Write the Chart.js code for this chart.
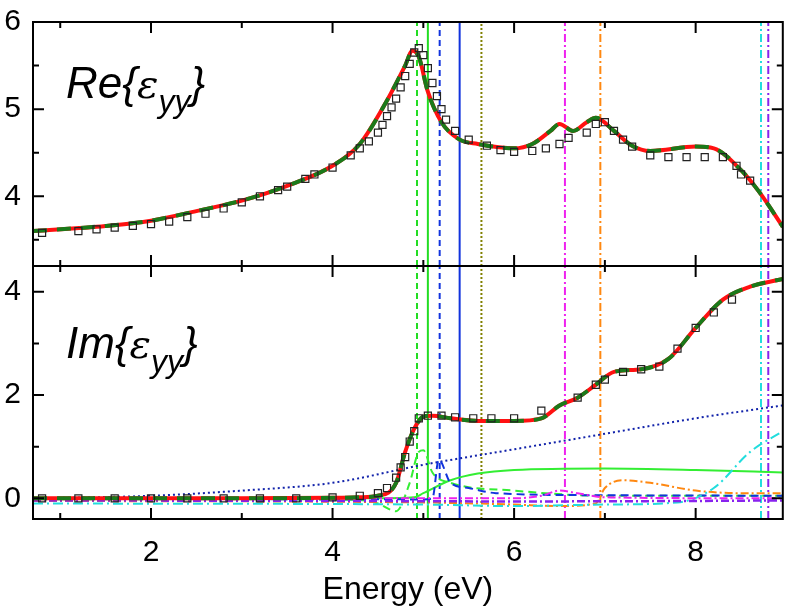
<!DOCTYPE html>
<html><head><meta charset="utf-8">
<script src="https://cdn.jsdelivr.net/npm/chart.js@4"></script>
<style>
html,body{margin:0;padding:0;background:#fff;}
#wrap{position:relative;width:789px;height:613px;}
.lab{position:absolute;font-family:"Liberation Sans",Arial,sans-serif;font-style:italic;font-size:44px;color:#000;}
.lab sub{font-size:32px;vertical-align:-14px;}
</style></head><body>
<div id="wrap"><canvas id="c" width="789" height="613"></canvas>
<div class="lab" style="left:66px;top:58px;">Re{<span style="font-family:'DejaVu Serif';font-size:40px">ε</span><sub>yy</sub>}</div>
<div class="lab" style="left:66px;top:318px;">Im{<span style="font-family:'DejaVu Serif';font-size:40px">ε</span><sub>yy</sub>}</div>
</div>
<script>
// ---- data ----
const reFitX = [0.7,1.5,2,2.5,3,3.5,4,4.3,4.6,4.8,4.88,4.95,5.05,5.2,5.4,5.6,6,6.2,6.4,6.5,6.65,6.8,6.9,7.1,7.3,7.5,8,8.2,8.5,8.7,8.96];
const reFitY = [3.6,3.66,3.72,3.83,3.95,4.12,4.35,4.6,5.1,5.5,5.67,5.6,5.2,4.85,4.65,4.6,4.55,4.6,4.75,4.83,4.75,4.85,4.9,4.75,4.58,4.52,4.57,4.55,4.3,4.05,3.65];
const reExpX = [0.8,1.2,1.4,1.6,1.8,2.0,2.2,2.4,2.6,2.8,3.0,3.2,3.4,3.5,3.7,3.8,4.0,4.2,4.3,4.4,4.5,4.55,4.6,4.65,4.7,4.75,4.8,4.85,4.9,4.95,5.0,5.05,5.1,5.15,5.2,5.25,5.35,5.5,5.7,5.85,6.0,6.2,6.35,6.5,6.6,6.8,6.9,7.0,7.1,7.2,7.3,7.5,7.7,7.9,8.1,8.3,8.45,8.5,8.6];
const reExpY = [3.58,3.6,3.62,3.64,3.66,3.68,3.71,3.76,3.8,3.86,3.93,4.0,4.07,4.11,4.2,4.25,4.33,4.47,4.55,4.63,4.73,4.82,4.92,5.02,5.12,5.25,5.38,5.52,5.65,5.7,5.62,5.47,5.3,5.15,5.0,4.88,4.75,4.65,4.58,4.53,4.51,4.52,4.55,4.6,4.67,4.73,4.83,4.85,4.75,4.65,4.57,4.47,4.45,4.45,4.45,4.45,4.35,4.25,4.18];
const imFitX = [0.7,2,3,4,4.3,4.5,4.7,4.8,4.9,5.0,5.1,5.3,5.6,6.0,6.3,6.5,6.7,6.9,7.1,7.4,7.7,8.0,8.3,8.6,8.96];
const imFitY = [0,0,0,0.01,0.02,0.05,0.3,0.9,1.35,1.58,1.6,1.55,1.5,1.5,1.55,1.8,1.95,2.2,2.45,2.5,2.7,3.3,3.85,4.1,4.25];
const imExpX = [0.8,1.2,1.6,2.0,2.4,2.8,3.2,3.6,4.0,4.3,4.5,4.6,4.7,4.75,4.8,4.85,4.9,4.95,5.05,5.2,5.35,5.55,5.75,6.0,6.3,6.7,6.9,7.0,7.2,7.4,7.6,7.8,8.0,8.2,8.4];
const imExpY = [0,0,0,0,0,0,0,0,0.02,0.05,0.1,0.2,0.4,0.6,0.8,1.1,1.3,1.55,1.6,1.6,1.57,1.55,1.55,1.55,1.7,1.95,2.2,2.3,2.45,2.5,2.55,2.9,3.3,3.6,3.85];
const cDrudeX = [0.7,2,3,4,5,6,7,8,8.96];
const cDrudeY = [0,0.05,0.15,0.3,0.65,0.95,1.25,1.55,1.8];
const cG1X = [0.7,4.5,4.9,5.0,5.3,5.6,6,7,8,8.96];
const cG1Y = [0,0,0.02,0.1,0.35,0.48,0.55,0.58,0.55,0.5];
const cG2X = [0.7,4.3,4.5,4.7,4.85,4.95,5.0,5.1,5.3,6,7,8.96];
const cG2Y = [0,-0.03,-0.1,-0.25,0.3,0.9,0.93,0.5,0.3,0.15,0.05,0.05];
const cB1X = [0.7,5.0,5.1,5.17,5.3,5.5,5.8,7,8.96];
const cB1Y = [0,-0.02,0,0.75,0.3,0.2,0.1,0.06,0.05];
const cOrX = [0.7,5,6,6.5,6.9,7.0,7.2,7.5,8,8.5,8.96];
const cOrY = [-0.05,-0.08,-0.12,-0.15,-0.1,0.2,0.35,0.3,0.15,0.1,0.1];
const cCyX = [0.7,5,6,7,7.8,8.2,8.6,8.96];
const cCyY = [-0.1,-0.12,-0.15,-0.12,-0.08,0.2,0.9,1.3];
const cMgX = [0.7,6,6.3,6.5,6.7,7,8.96];
const cMgY = [0,0,0.05,0.15,0.1,0.02,0];
const cPuX = [0.7,4,6,8,8.96];
const cPuY = [-0.04,-0.05,-0.06,-0.05,-0.04];
const vLineX = [4.93,5.05,5.18,5.40,5.64,6.56,6.95,8.72,8.80];
const vLineColor = ['#22dd22','#22dd22','#1133dd','#1133dd','#808000','#ee22ee','#ff8811','#22dddd','#8822ee'];
const vLineDash = [[6,4],[],[6,4],[],[2,2],[8,3,2,3],[8,3,2,3],[8,3,2,3],[8,3,2,3]];
const xTickLabels = [2,4,6,8];
// ---- build ----
const pts=(xs,ys)=>xs.map((x,i)=>({x,y:ys[i]}));
const ds=[];
function line(xs,ys,axis,color,dash,w){ds.push({data:pts(xs,ys),yAxisID:axis,borderColor:color,borderDash:dash||[],borderWidth:w||2,pointRadius:0,tension:0.4,cubicInterpolationMode:'monotone',fill:false});}
vLineX.forEach((x,i)=>{
  ds.push({data:[{x,y:3.2},{x,y:6}],yAxisID:'yTop',borderColor:vLineColor[i],borderDash:vLineDash[i],borderWidth:2,pointRadius:0});
  ds.push({data:[{x,y:-0.4},{x,y:4.5}],yAxisID:'yBot',borderColor:vLineColor[i],borderDash:vLineDash[i],borderWidth:2,pointRadius:0});
});
line(cDrudeX,cDrudeY,'yBot','#1122aa',[2,3],2);
line(cG1X,cG1Y,'yBot','#33ee33',[],2);
line(cG2X,cG2Y,'yBot','#33ee33',[8,5],2);
line(cB1X,cB1Y,'yBot','#1133dd',[8,5],2);
line(cOrX,cOrY,'yBot','#ff8811',[8,3,2,3],2);
line(cCyX,cCyY,'yBot','#22dddd',[10,4,2,4],2);
line(cMgX,cMgY,'yBot','#ee22ee',[8,3,2,3],2);
line(cPuX,cPuY,'yBot','#8822ee',[8,3,2,3],2.5);
line(reFitX,reFitY,'yTop','#ff1111',[],4);
line(reFitX,reFitY,'yTop','#1a7a1a',[14,10],4);
line(imFitX,imFitY,'yBot','#ff1111',[],4);
line(imFitX,imFitY,'yBot','#1a7a1a',[14,10],4);
ds.push({data:pts(reExpX,reExpY),yAxisID:'yTop',showLine:false,pointStyle:'rect',pointRadius:5,borderColor:'#222',backgroundColor:'rgba(0,0,0,0)',borderWidth:1.2});
ds.push({data:pts(imExpX,imExpY),yAxisID:'yBot',showLine:false,pointStyle:'rect',pointRadius:5,borderColor:'#222',backgroundColor:'rgba(0,0,0,0)',borderWidth:1.2});
ds.reverse();

const frame={id:'frame',afterDraw(c){
  const g=c.ctx,a=c.chartArea,x=c.scales.x,yt=c.scales.yTop,yb=c.scales.yBot;
  g.save();g.strokeStyle='#000';g.lineWidth=2;
  g.strokeRect(a.left,a.top,a.right-a.left,a.bottom-a.top);
  g.beginPath();g.moveTo(a.left,yt.bottom);g.lineTo(a.right,yt.bottom);g.stroke();
  g.beginPath();
  for(let v=1;v<=8;v++){const p=x.getPixelForValue(v),L=v%2?6:11;
    [[a.bottom,-1],[yb.top,1],[yt.bottom,-1],[a.top,1]].forEach(([y0,s])=>{g.moveTo(p,y0);g.lineTo(p,y0+s*L);});}
  for(let v=3.5;v<=6;v+=0.5){const p=yt.getPixelForValue(v),L=v%1?6:11;g.moveTo(a.left,p);g.lineTo(a.left+L,p);g.moveTo(a.right,p);g.lineTo(a.right-L,p);}
  for(let v=0;v<=4;v++){const p=yb.getPixelForValue(v),L=v%2?6:11;g.moveTo(a.left,p);g.lineTo(a.left+L,p);g.moveTo(a.right,p);g.lineTo(a.right-L,p);}
  g.stroke();g.restore();}};

const tf={family:'Liberation Sans, Arial, sans-serif',size:30};
new Chart(document.getElementById('c'),{type:'line',data:{datasets:ds},plugins:[frame],
options:{responsive:false,animation:false,events:[],
 layout:{padding:{top:22,right:1,left:0,bottom:0}},
 plugins:{legend:{display:false},tooltip:{enabled:false}},
 scales:{
  x:{type:'linear',min:0.7,max:8.96,grid:{display:false},border:{display:false},
     afterBuildTicks:s=>{s.ticks=xTickLabels.map(v=>({value:v}));},
     afterFit:s=>{s.height=94;},
     ticks:{font:tf,color:'#000',padding:8,maxRotation:0},
     title:{display:true,text:'Energy (eV)',font:{family:'Liberation Sans, Arial, sans-serif',size:32},color:'#000',padding:{top:4}}},
  yBot:{type:'linear',min:-0.4,max:4.5,stack:'v',stackWeight:252,position:'left',grid:{display:false},border:{display:false},
     afterBuildTicks:s=>{s.ticks=[0,2,4].map(v=>({value:v}));},
     afterFit:s=>{s.width=33;},ticks:{font:tf,color:'#000',padding:4}},
  yTop:{type:'linear',min:3.2,max:6,stack:'v',stackWeight:243,position:'left',grid:{display:false},border:{display:false},
     afterBuildTicks:s=>{s.ticks=[4,5,6].map(v=>({value:v}));},
     afterFit:s=>{s.width=33;},ticks:{font:tf,color:'#000',padding:4}}
 }}});
</script></body></html>
